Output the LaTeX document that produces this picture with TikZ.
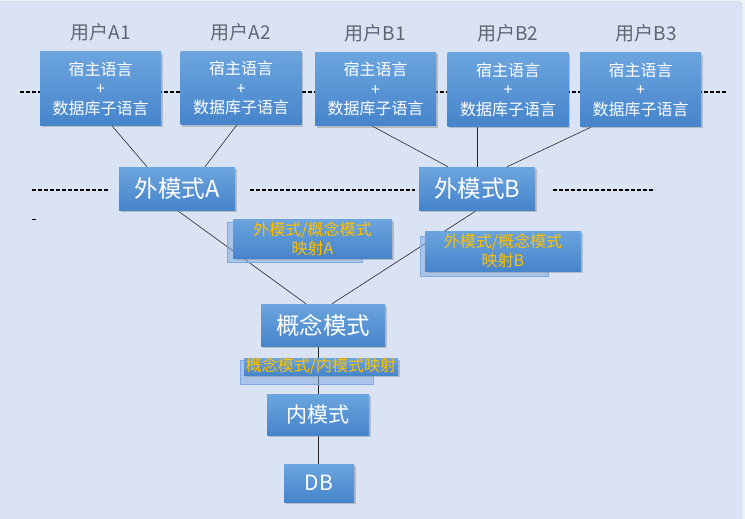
\documentclass[tikz,border=0pt]{standalone}
\usepackage{fontspec}
\setmainfont{Noto Sans CJK SC}
\usetikzlibrary{positioning, shadows}
\definecolor{pagebg}{HTML}{DAE3F3}
\definecolor{pageedge}{HTML}{EEF2F9}
\definecolor{framecol}{HTML}{BFCBE0}
\definecolor{boxtop}{HTML}{6CA5DE}
\definecolor{boxbot}{HTML}{4684CB}
\definecolor{backbox}{HTML}{7FABE0}
\definecolor{maptext}{HTML}{FFC000}
\definecolor{titlegray}{HTML}{5F6670}
\pgfdeclarelayer{bgfill}
\pgfdeclarelayer{wires}
\pgfsetlayers{bgfill,wires,main}
\tikzset{
  box/.style={rectangle, top color=boxtop, bottom color=boxbot, text=white, inner sep=0pt, align=center,
    drop shadow={shadow xshift=1.5pt, shadow yshift=-2pt, opacity=0.4}},
  userbox/.style={box, minimum width=121pt, minimum height=73pt, font=\fontsize{16}{19.5}\selectfont},
  usertitle/.style={text=titlegray, inner sep=0pt, font=\fontsize{19}{21}\selectfont},
  schemabox/.style={box, font=\fontsize{23.5}{26}\selectfont},
  mapbox/.style={box, text=maptext, font=\fontsize{16}{19}\selectfont},
  mapback/.style={rectangle, fill=backbox, fill opacity=0.55, draw=backbox, inner sep=0pt},
  wire/.style={black!85, line width=0.6pt},
  guide/.style={black, line width=1.2pt, dash pattern=on 4pt off 2pt}
}

\begin{document}
\begin{tikzpicture}[x=1pt,y=-1pt]
  \useasboundingbox (0,0) rectangle (745,519);
  \begin{pgfonlayer}{bgfill}
    \fill[pageedge] (0,0) rectangle (745,519);
    \filldraw[fill=pagebg, draw=framecol, rounded corners=4pt] (-10,1.5) rectangle (742,530);
  \end{pgfonlayer}

  % user programs
  \node[userbox] (a1) at (100.5,88.5) {宿主语言\\+\\数据库子语言};
  \node[userbox] (a2) at (241,88) {宿主语言\\+\\数据库子语言};
  \node[userbox] (b1) at (375.5,89) {宿主语言\\+\\数据库子语言};
  \node[userbox] (b2) at (508,89.5) {宿主语言\\+\\数据库子语言};
  \node[userbox] (b3) at (640.5,89.5) {宿主语言\\+\\数据库子语言};
  \node[usertitle, above=10pt of a1] (ta1) {用户A1};
  \node[usertitle, above=10pt of a2] (ta2) {用户A2};
  \node[usertitle, above=10pt of b1] (tb1) {用户B1};
  \node[usertitle, above=10pt of b2] (tb2) {用户B2};
  \node[usertitle, above=10pt of b3, xshift=6pt] (tb3) {用户B3};

  % schemas
  \node[schemabox, minimum width=116pt, minimum height=43pt] (exta) at (177,188.5) {外模式A};
  \node[schemabox, minimum width=116pt, minimum height=43pt] (extb) at (477,188.5) {外模式B};
  \node[schemabox, minimum width=124pt, minimum height=42pt] (concept) at (323,325) {概念模式};
  \node[schemabox, minimum width=102pt, minimum height=41pt, font=\fontsize{21}{24}\selectfont] (internal) at (318,414.5) {内模式};
  \node[schemabox, minimum width=70pt, minimum height=38pt, font=\fontsize{21}{24}\selectfont] (db) at (319,483) {DB};

  % mappings
  \node[mapback, minimum width=135pt, minimum height=40pt] (mapaback) at (294.5,242) {};
  \node[mapbox, minimum width=159pt, minimum height=39pt] (mapa) at (312.5,238.5) {外模式/概念模式\\映射A};
  \node[mapback, minimum width=128pt, minimum height=40pt] (mapbback) at (484,256) {};
  \node[mapbox, minimum width=156pt, minimum height=40pt] (mapb) at (503,251) {外模式/概念模式\\映射B};
  \node[mapback, minimum width=133pt, minimum height=24pt] (mapcback) at (306.5,372) {};
  \node[mapbox, minimum width=154pt, minimum height=17pt] (mapc) at (321,366.5) {概念模式/内模式映射};

  % guide lines
  \coordinate (gl1) at (20,92);
  \coordinate (gr1) at (726,92);
  \coordinate (gl2) at (32,190);
  \coordinate (gm2) at (110,190);
  \coordinate (gl3) at (250,190);
  \coordinate (gm3) at (415,190);
  \coordinate (gl4) at (553,190);
  \coordinate (gm4) at (655,190);
  \coordinate (gs1) at (32,219.5);
  \coordinate (gs2) at (37,219.5);

  \begin{pgfonlayer}{wires}
    \draw[guide] (gl1) -- (gr1);
    \draw[guide] (gl2) -- (gm2) (gl3) -- (gm3) (gl4) -- (gm4) (gs1) -- (gs2);
    \draw[wire] ([xshift=11pt]a1.south) -- ([xshift=-30pt]exta.north);
    \draw[wire] ([xshift=-4pt]a2.south) -- ([xshift=28pt]exta.north);
    \draw[wire] ([xshift=-4pt]b1.south) -- ([xshift=-29pt]extb.north);
    \draw[wire] ([xshift=-31pt]b2.south) -- (extb.north);
    \draw[wire] ([xshift=-47.5pt]b3.south) -- ([xshift=30pt]extb.north);
    \draw[wire] (exta.south) -- ([xshift=-17pt]concept.north);
    \draw[wire] (extb.south) -- ([xshift=9pt]concept.north);
    \draw[wire] ([xshift=-5pt]concept.south) -- (internal.north);
    \draw[wire] (internal.south) -- (internal.south |- db.north);
  \end{pgfonlayer}
\end{tikzpicture}
\end{document}
